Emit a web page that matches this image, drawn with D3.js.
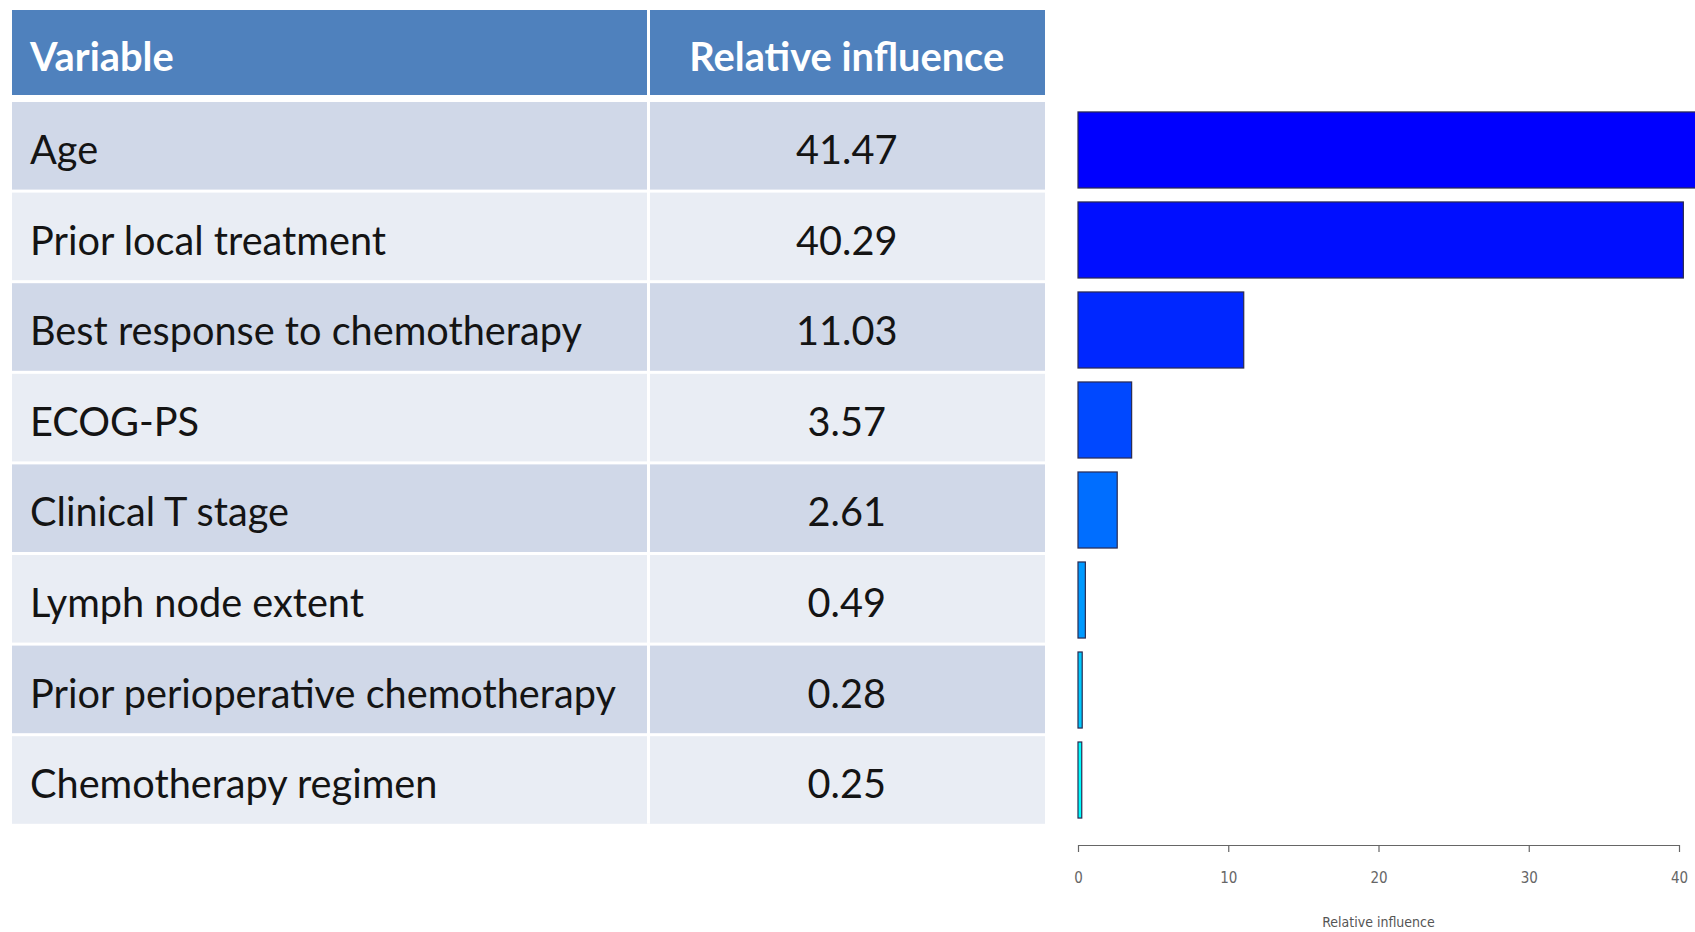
<!DOCTYPE html>
<html>
<head>
<meta charset="utf-8">
<script src="https://cdn.jsdelivr.net/npm/d3@7"></script>
<style>
  html, body { margin: 0; padding: 0; background: #ffffff; }
  svg { display: block; }
</style>
</head>
<body>
<svg id="chart" width="1695" height="932"></svg>
<script>
// ---- data ----
const variables = [
  "Age",
  "Prior local treatment",
  "Best response to chemotherapy",
  "ECOG-PS",
  "Clinical T stage",
  "Lymph node extent",
  "Prior perioperative chemotherapy",
  "Chemotherapy regimen"
];
const influence = [41.47, 40.29, 11.03, 3.57, 2.61, 0.49, 0.28, 0.25];
const headers = ["Variable", "Relative influence"];
const axisTicks = [0, 10, 20, 30, 40];
const axisTitle = "Relative influence";

// ---- layout ----
const svg = d3.select("#chart");
const tableLeft = 12, tableRight = 1045, colDiv = 648.5;
const headerTop = 10, headerBottom = 95;
const rowTop = 102, rowPitch = 90.6, rowH = 87.6;
const tableFont = "Lato, 'Open Sans', 'DejaVu Sans', sans-serif";

const rowY = d3.scaleLinear().domain([0, 1]).range([rowTop, rowTop + rowPitch]);

function fitSize(text, weight, target) {
  const t = svg.append("text").attr("font-family", tableFont)
    .attr("font-weight", weight).attr("font-size", 100).text(text);
  const w = t.node().getComputedTextLength();
  t.remove();
  return 100 * target / w;
}
const bodySize = fitSize("Best response to chemotherapy", 400, 552);
const headSize = fitSize("Relative influence", 700, 315);

const g = svg.append("g");
g.append("rect").attr("x", tableLeft).attr("y", headerTop)
  .attr("width", tableRight - tableLeft).attr("height", headerBottom - headerTop)
  .attr("fill", "#4f81bd");

const rows = g.selectAll("g.row").data(variables).enter().append("g").attr("class", "row");
rows.append("rect")
  .attr("x", tableLeft).attr("y", (d, i) => rowY(i))
  .attr("width", tableRight - tableLeft).attr("height", rowH)
  .attr("fill", (d, i) => i % 2 === 0 ? "#d0d8e8" : "#e9edf4");

g.append("line").attr("x1", colDiv).attr("x2", colDiv)
  .attr("y1", headerTop).attr("y2", rowY(variables.length - 1) + rowH)
  .attr("stroke", "#ffffff").attr("stroke-width", 3);

const textShift = 4;
g.append("text").attr("x", 30).attr("y", (headerTop + headerBottom) / 2 + textShift)
  .attr("dy", "0.36em").attr("font-family", tableFont).attr("font-weight", 700)
  .attr("font-size", headSize).attr("fill", "#ffffff").text(headers[0]);
g.append("text").attr("x", (colDiv + tableRight) / 2).attr("y", (headerTop + headerBottom) / 2 + textShift)
  .attr("dy", "0.36em").attr("text-anchor", "middle").attr("font-family", tableFont)
  .attr("font-weight", 700).attr("font-size", headSize).attr("fill", "#ffffff").text(headers[1]);

rows.append("text").attr("x", 30).attr("y", (d, i) => rowY(i) + rowH / 2 + textShift)
  .attr("dy", "0.36em").attr("font-family", tableFont).attr("font-size", bodySize)
  .attr("fill", "#141414").text(d => d);
const fmt = d3.format(".2f");
rows.append("text").attr("x", (colDiv + tableRight) / 2).attr("y", (d, i) => rowY(i) + rowH / 2 + textShift)
  .attr("dy", "0.36em").attr("text-anchor", "middle").attr("font-family", tableFont)
  .attr("font-size", bodySize).attr("fill", "#141414").text((d, i) => fmt(influence[i]));

// ---- bar chart ----
const x = d3.scaleLinear().domain([0, 40]).range([1078, 1679]);
const y = d3.scaleBand().domain(variables).range([98, 832]).paddingInner(0.155).paddingOuter(0.155);
const hue = d3.scalePow().exponent(1.5).domain([0, variables.length - 1]).range([240, 180]);

const bars = svg.append("g");
bars.selectAll("rect").data(variables).enter().append("rect")
  .attr("x", x(0))
  .attr("y", d => y(d))
  .attr("width", (d, i) => x(influence[i]) - x(0))
  .attr("height", y.bandwidth())
  .attr("fill", (d, i) => d3.hsl(hue(i), 1, 0.5).formatHex())
  .attr("stroke", "#2a2a50").attr("stroke-width", 1.2);

const axisY = 845;
const axisG = svg.append("g").attr("transform", `translate(0,${axisY})`)
  .call(d3.axisBottom(x).tickValues(axisTicks).tickFormat(d3.format("d"))
    .tickSize(7).tickSizeOuter(0).tickPadding(20));
axisG.select(".domain").attr("stroke", "#666").attr("stroke-width", 1.2);
axisG.selectAll(".tick line").attr("stroke", "#666").attr("stroke-width", 1.2);
axisG.selectAll(".tick text").attr("fill", "#666")
  .attr("font-family", "'Liberation Sans Narrow', 'DejaVu Sans Condensed', sans-serif")
  .attr("font-size", 15);

svg.append("text").attr("x", (x(0) + x(40)) / 2).attr("y", 922)
  .attr("dy", "0.35em").attr("text-anchor", "middle")
  .attr("font-family", "'Liberation Sans Narrow', 'DejaVu Sans Condensed', sans-serif")
  .attr("font-size", 14).attr("fill", "#555").text(axisTitle);
</script>
</body>
</html>
